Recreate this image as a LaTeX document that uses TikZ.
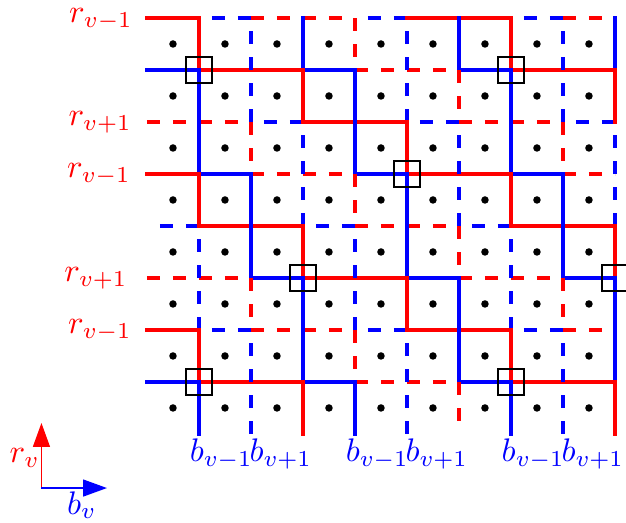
\documentclass[tikz,border=0pt]{standalone}
\usetikzlibrary{arrows.meta}

\begin{document}
\begin{tikzpicture}[x=0.56cm,y=0.56cm,
  hR/.style={draw=red,line width=1.1pt,line cap=rect},
  hB/.style={draw=blue,line width=1.1pt,line cap=rect},
  hr/.style={draw=red,line width=1.1pt,dash pattern=on 0.14cm off 0.14cm},
  hb/.style={draw=blue,line width=1.1pt,dash pattern=on 0.14cm off 0.14cm,dash phase=0.14cm},
  vR/.style={hR},
  vB/.style={hB},
  vr/.style={draw=red,line width=1.1pt,dash pattern=on 0.14cm off 0.14cm,dash phase=0.14cm},
  vb/.style={draw=blue,line width=1.1pt,dash pattern=on 0.14cm off 0.14cm},
  sq/.style={rectangle,draw=black,line width=0.4pt,minimum size=0.28cm,inner sep=0pt},
  lab/.style={inner sep=0pt},
  ax/.style={line width=0.4pt,-{Triangle[length=7.3pt,width=5.2pt]}}]

\useasboundingbox (-2.827,-1.712) rectangle (9.212,8.346);

% horizontal lines, row 0 at the top
\foreach \row/\segs in {0/{R,b,r,r,b,R,R,b,r},1/{B,R,R,B,r,r,B,R,R},
    2/{r,r,b,R,R,b,r,r,b},3/{R,B,r,r,B,R,R,B,r},4/{b,R,R,b,r,r,b,R,R},
    5/{r,r,B,R,R,B,r,r,B},6/{R,b,r,r,b,R,R,b,r},7/{B,R,R,B,r,r,B,R,R}}
  \foreach \s [count=\i from 0] in \segs
    \draw[h\s] (\i,8-\row) -- ++(1,0);

% vertical lines, drawn upwards, segment 0 at the top
\foreach \col/\segs in {1/{R,B,B,R,b,b,R,B},2/{b,b,r,B,B,r,b,b},3/{B,R,b,b,R,B,B,R},
    4/{r,B,B,r,b,b,r,B},5/{b,b,R,B,B,R,b,b},6/{B,r,b,b,r,B,B,r},
    7/{R,B,B,R,b,b,R,B},8/{b,b,r,B,B,r,b,b},9/{B,R,b,b,R,B,B,R}}
  \foreach \s [count=\j from 0] in \segs
    \draw[v\s] (\col,7-\j) -- ++(0,1);

% dots
\foreach \x in {0,...,8}
  \foreach \y in {0,...,7}
    \fill (\x+0.5,\y+0.5) circle (1.15pt);

% crossings
\foreach \x/\y in {1/7,7/7,5/5,3/3,9/3,1/1,7/1}
  \node[sq] (s\x\y) at (\x,\y) {};

% labels
\node[lab,red,anchor=east] (r0) at (-0.26,7.97) {$r_{v-1}$};
\node[lab,red,anchor=east] (r2) at (-0.28,6) {$r_{v+1}$};
\node[lab,red,anchor=east] (r3) at (-0.3,5) {$r_{v-1}$};
\node[lab,red,anchor=east] (r5) at (-0.36,3) {$r_{v+1}$};
\node[lab,red,anchor=east] (r6) at (-0.28,2) {$r_{v-1}$};
\foreach \x in {1,4,7} {
  \node[lab,blue,anchor=north west] (bm\x) at (\x-0.19,-0.08) {$b_{v-1}$};
  \node[lab,blue,anchor=north west] (bp\x) at (\x+0.96,-0.08) {$b_{v+1}$};
}

% axes
\coordinate (o) at (-2.03,-1.04);
\coordinate (rtip) at (-2.03,0.21);
\coordinate (btip) at (-0.77,-1.04);
\draw[ax,red] (o) -- (rtip);
\draw[ax,blue] (o) -- (btip);
\node[lab,red] (rv) at (-2.35,-0.47) {$r_v$};
\node[lab,blue] (bv) at (-1.25,-1.37) {$b_v$};
\end{tikzpicture}
\end{document}
